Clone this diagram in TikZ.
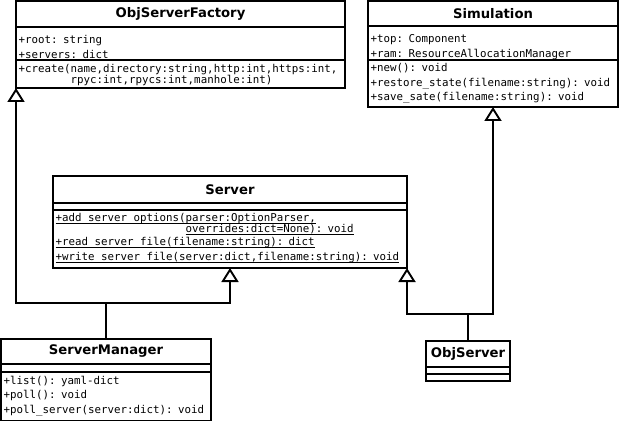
\documentclass[tikz,border=0pt]{standalone}
\usepackage{fontspec}
\setmainfont{DejaVu Sans}
\setmonofont{DejaVu Sans Mono}
\usetikzlibrary{arrows.meta,positioning}

\newcommand{\stat}[1]{\leavevmode\setbox0\hbox{#1}\rlap{\rule[-2.6pt]{\wd0}{1pt}}\box0}

\tikzset{
  umlbox/.style={draw, line width=1.9pt, inner sep=0pt, outer sep=0pt, anchor=north west},
  classname/.style={umlbox, font=\bfseries\fontsize{13.2}{15}\selectfont},
  members/.style={anchor=base west, inner sep=0pt, text width=400pt, align=left,
    font=\ttfamily\fontsize{10.8}{14.5}\selectfont},
  link/.style={line width=1.9pt},
  inherits/.style={link, -{Triangle[open,length=14pt,width=17pt]}}
}

\begin{document}
\begin{tikzpicture}[x=1pt,y=-1pt]
\path[use as bounding box, fill=white] (0,0) rectangle (620,422);

% ObjServerFactory
\node[classname, minimum width=329pt, minimum height=26pt] (factory) at (16,1) {ObjServerFactory};
\node[umlbox, minimum width=329pt, minimum height=33pt] (factory-attr) at (factory.south west) {};
\node[umlbox, minimum width=329pt, minimum height=28pt] (factory-ops) at (factory-attr.south west) {};
\node[members] (factory-attr-txt) at ([xshift=2.5pt,yshift=-17pt]factory-attr.north west)
  {+root: string\\+servers: dict};
\node[members] (factory-ops-txt) at ([xshift=2.5pt,yshift=-13pt]factory-ops.north west)
  {+create(name,directory:string,http:int,https:int,\\[-4pt]\hphantom{+create(}rpyc:int,rpycs:int,manhole:int)};

% Simulation
\node[classname, minimum width=250pt, minimum height=25pt] (sim) at (368,1) {Simulation};
\node[umlbox, minimum width=250pt, minimum height=34pt] (sim-attr) at (sim.south west) {};
\node[umlbox, minimum width=250pt, minimum height=47pt] (sim-ops) at (sim-attr.south west) {};
\node[members] (sim-attr-txt) at ([xshift=2.5pt,yshift=-17pt]sim-attr.north west)
  {+top: Component\\+ram: ResourceAllocationManager};
\node[members] (sim-ops-txt) at ([xshift=2.5pt,yshift=-12pt]sim-ops.north west)
  {+new(): void\\+restore\_state(filename:string): void\\+save\_sate(filename:string): void};

% Server
\node[classname, minimum width=354pt, minimum height=27pt] (server) at (53,176) {Server};
\node[umlbox, minimum width=354pt, minimum height=7pt] (server-attr) at (server.south west) {};
\node[umlbox, minimum width=354pt, minimum height=58pt] (server-ops) at (server-attr.south west) {};
\node[members] (server-ops-txt) at ([xshift=2.5pt,yshift=-11pt]server-ops.north west)
  {\stat{+add\_server\_options(parser:OptionParser,}\\[-3.5pt]
   \hphantom{+add\_server\_options(}\stat{overrides:dict=None): void}\\[-1pt]
   \stat{+read\_server\_file(filename:string): dict}\\
   \stat{+write\_server\_file(server:dict,filename:string): void}};

% ServerManager
\node[classname, minimum width=210pt, minimum height=25pt] (manager) at (1,339) {ServerManager};
\node[umlbox, minimum width=210pt, minimum height=8pt] (manager-attr) at (manager.south west) {};
\node[umlbox, minimum width=210pt, minimum height=48.5pt] (manager-ops) at (manager-attr.south west) {};
\node[members] (manager-ops-txt) at ([xshift=2.5pt,yshift=-12pt]manager-ops.north west)
  {+list(): yaml-dict\\+poll(): void\\+poll\_server(server:dict): void};

% ObjServer
\node[classname, minimum width=84pt, minimum height=26pt] (objserver) at (426,341) {ObjServer};
\node[umlbox, minimum width=84pt, minimum height=7pt] (objserver-attr) at (objserver.south west) {};
\node[umlbox, minimum width=84pt, minimum height=7pt] (objserver-ops) at (objserver-attr.south west) {};

% generalisations
\coordinate (manager-fork) at (106,303);
\coordinate (objserver-fork) at (468,314);
\draw[link] (manager.north) -- (manager-fork);
\draw[inherits] (manager-fork) -| (factory-ops.south west);
\draw[inherits] (manager-fork) -| (server-ops.south);
\draw[link] (objserver.north) -- (objserver-fork);
\draw[inherits] (objserver-fork) -| (server-ops.south east);
\draw[inherits] (objserver-fork) -| (sim-ops.south);
\end{tikzpicture}
\end{document}
